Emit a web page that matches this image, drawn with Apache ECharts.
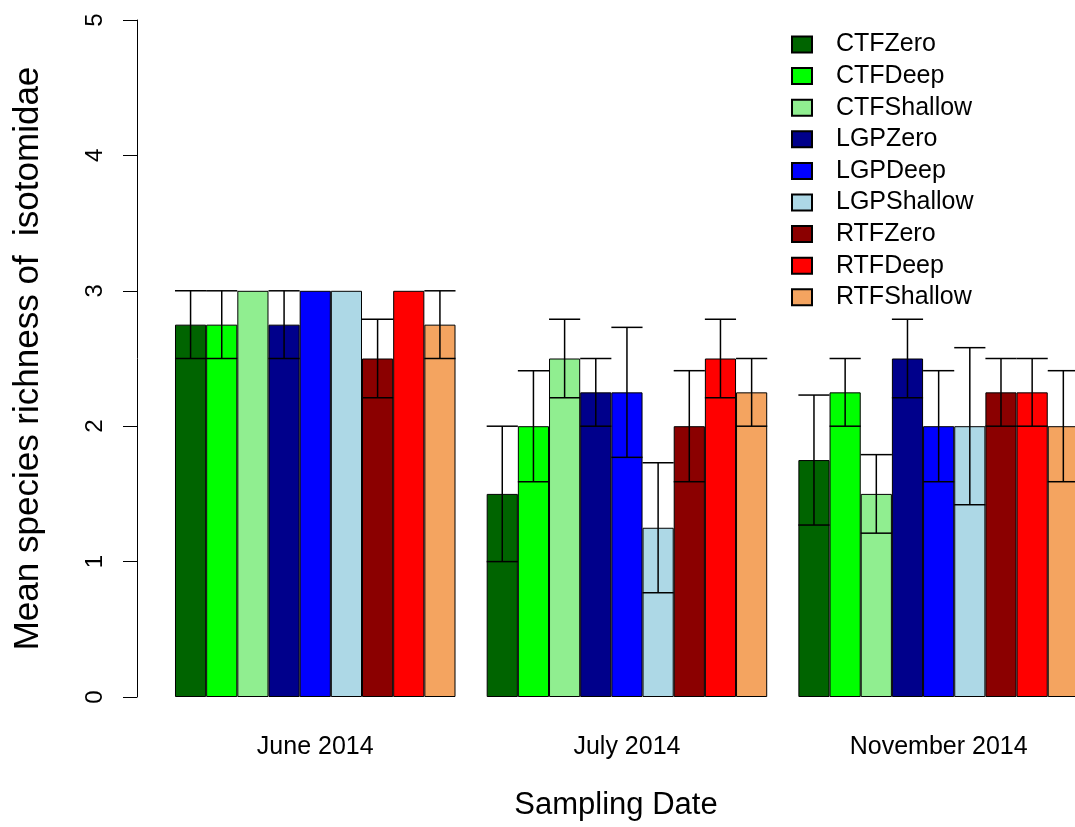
<!DOCTYPE html>
<html>
<head>
<meta charset="utf-8">
<script src="https://cdn.jsdelivr.net/npm/echarts@6/dist/echarts.min.js"></script>
<style>
html,body{margin:0;padding:0;background:#fff;overflow:hidden;}
#chart{width:1075px;height:827px;}
</style>
</head>
<body>
<div id="chart"></div>
<script>
// ---- data ----
const categories = ['June 2014', 'July 2014', 'November 2014'];
const treatments = ['CTFZero', 'CTFDeep', 'CTFShallow', 'LGPZero', 'LGPDeep', 'LGPShallow', 'RTFZero', 'RTFDeep', 'RTFShallow'];
const colors = ['#006400', '#00FF00', '#90EE90', '#00008B', '#0000FF', '#ADD8E6', '#8B0000', '#FF0000', '#F4A460'];
const meanCTFZero    = [2.75, 1.50, 1.75];
const meanCTFDeep    = [2.75, 2.00, 2.25];
const meanCTFShallow = [3.00, 2.50, 1.50];
const meanLGPZero    = [2.75, 2.25, 2.50];
const meanLGPDeep    = [3.00, 2.25, 2.00];
const meanLGPShallow = [3.00, 1.25, 2.00];
const meanRTFZero    = [2.50, 2.00, 2.25];
const meanRTFDeep    = [3.00, 2.50, 2.25];
const meanRTFShallow = [2.75, 2.25, 2.00];
const lowCTFZero    = [2.50, 1.00, 1.27];
const lowCTFDeep    = [2.50, 1.59, 2.00];
const lowCTFShallow = [3.00, 2.21, 1.21];
const lowLGPZero    = [2.50, 2.00, 2.21];
const lowLGPDeep    = [3.00, 1.77, 1.59];
const lowLGPShallow = [3.00, 0.77, 1.42];
const lowRTFZero    = [2.21, 1.59, 2.00];
const lowRTFDeep    = [3.00, 2.21, 2.00];
const lowRTFShallow = [2.50, 2.00, 1.59];
const highCTFZero    = [3.00, 2.00, 2.23];
const highCTFDeep    = [3.00, 2.41, 2.50];
const highCTFShallow = [3.00, 2.79, 1.79];
const highLGPZero    = [3.00, 2.50, 2.79];
const highLGPDeep    = [3.00, 2.73, 2.41];
const highLGPShallow = [3.00, 1.73, 2.58];
const highRTFZero    = [2.79, 2.41, 2.50];
const highRTFDeep    = [3.00, 2.79, 2.50];
const highRTFShallow = [3.00, 2.50, 2.41];
const yTicks = [0, 1, 2, 3, 4, 5];

const means = [meanCTFZero, meanCTFDeep, meanCTFShallow, meanLGPZero, meanLGPDeep, meanLGPShallow, meanRTFZero, meanRTFDeep, meanRTFShallow];
const lows = [lowCTFZero, lowCTFDeep, lowCTFShallow, lowLGPZero, lowLGPDeep, lowLGPShallow, lowRTFZero, lowRTFDeep, lowRTFShallow];
const highs = [highCTFZero, highCTFDeep, highCTFShallow, highLGPZero, highLGPDeep, highLGPShallow, highRTFZero, highRTFDeep, highRTFShallow];

const FONT = '"Liberation Sans", Arial, Helvetica, sans-serif';
const CAT_GAP = 0.1;
const nSeries = treatments.length;

const errData = [];
for (let s = 0; s < nSeries; s++) {
  for (let g = 0; g < categories.length; g++) {
    errData.push([g, s, lows[s][g], highs[s][g]]);
  }
}

const barSeries = treatments.map((name, s) => ({
  name: name,
  type: 'bar',
  data: means[s],
  barGap: '0%',
  barCategoryGap: (CAT_GAP * 100) + '%',
  itemStyle: { color: colors[s], borderColor: '#000', borderWidth: 1 },
  emphasis: { disabled: true },
  animation: false
}));

const errSeries = {
  type: 'custom',
  data: errData,
  encode: { x: 0, y: [2, 3] },
  z: 10,
  silent: true,
  animation: false,
  renderItem: function (params, api) {
    const g = api.value(0), s = api.value(1), lo = api.value(2), hi = api.value(3);
    if (lo === hi) return null;
    const pLo = api.coord([g, lo]);
    const pHi = api.coord([g, hi]);
    const band = api.size([1, 0])[0];
    const bw = band * (1 - CAT_GAP) / nSeries;
    const x = pLo[0] - band * (1 - CAT_GAP) / 2 + (s + 0.5) * bw;
    const half = bw / 2;
    const st = { stroke: '#000', lineWidth: 1.5 };
    return {
      type: 'group',
      children: [
        { type: 'line', shape: { x1: x, y1: pLo[1], x2: x, y2: pHi[1] }, style: st },
        { type: 'line', shape: { x1: x - half, y1: pHi[1], x2: x + half, y2: pHi[1] }, style: st },
        { type: 'line', shape: { x1: x - half, y1: pLo[1], x2: x + half, y2: pLo[1] }, style: st }
      ]
    };
  }
};

const chart = echarts.init(document.getElementById('chart'), null, { renderer: 'canvas' });
chart.setOption({
  backgroundColor: '#fff',
  animation: false,
  textStyle: { fontFamily: FONT },
  grid: { left: 159.4, width: 935.1, top: 20, height: 677, containLabel: false, outerBoundsMode: 'none' },
  legend: {
    data: treatments,
    orient: 'vertical',
    left: 791,
    top: 32,
    padding: 0,
    itemWidth: 20,
    itemHeight: 16,
    itemGap: 6.6,
    icon: 'rect',
    selectedMode: false,
    textStyle: { fontFamily: FONT, fontSize: 25, lineHeight: 25, color: '#000', padding: [0, 0, 0, 19] }
  },
  xAxis: {
    type: 'category',
    data: categories,
    boundaryGap: true,
    axisLine: { show: false },
    axisTick: { show: false },
    axisLabel: { fontFamily: FONT, fontSize: 25, color: '#000', margin: 38 },
    name: 'Sampling Date',
    nameLocation: 'middle',
    nameGap: 93,
    nameTextStyle: { fontFamily: FONT, fontSize: 31, color: '#000', padding: [0, 22, 0, 0] },
    splitLine: { show: false }
  },
  yAxis: {
    type: 'value',
    min: 0,
    max: 5,
    interval: 1,
    offset: 22.4,
    axisLine: { show: true, lineStyle: { color: '#000', width: 1 } },
    axisTick: { show: true, inside: false, length: 14, lineStyle: { color: '#000', width: 1 } },
    axisLabel: { fontFamily: FONT, fontSize: 24, color: '#000', rotate: 90, margin: 30,
      formatter: function (v) { return yTicks.indexOf(v) >= 0 ? String(v) : ''; } },
    splitLine: { show: false },
    name: 'Mean species richness of  isotomidae',
    nameLocation: 'middle',
    nameGap: 91,
    nameTextStyle: { fontFamily: FONT, fontSize: 35, color: '#000' }
  },
  series: barSeries.concat([errSeries])
});
</script>
</body>
</html>
